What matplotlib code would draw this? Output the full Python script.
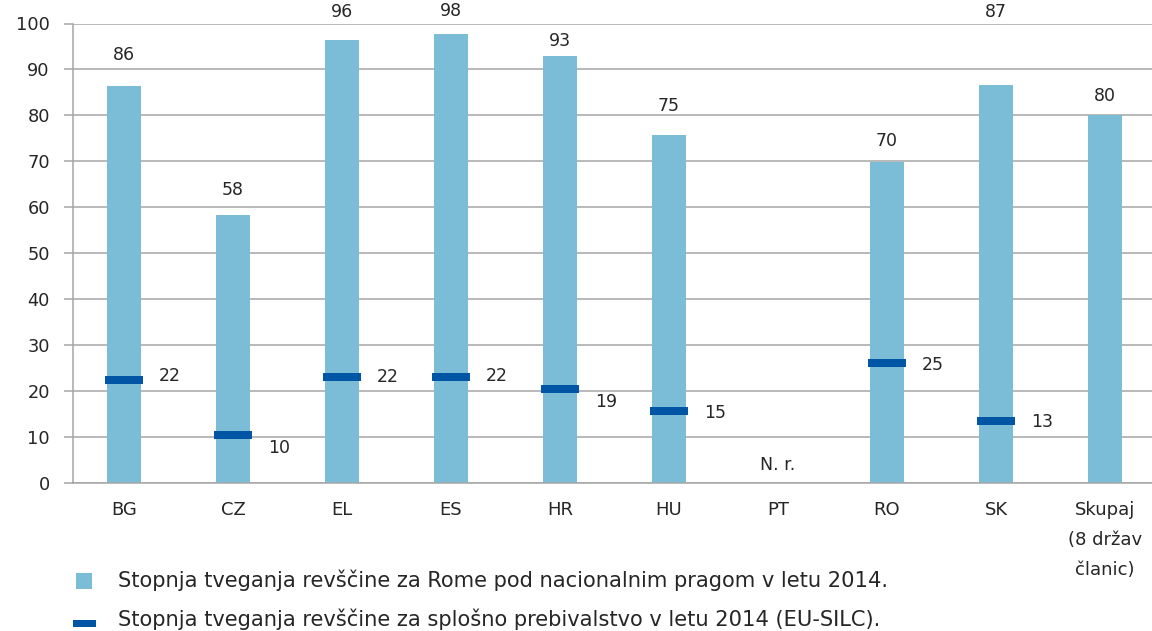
import matplotlib
matplotlib.use("Agg")
import matplotlib.pyplot as plt
from matplotlib.patches import Rectangle

plt.rcParams['font.family'] = ['DejaVu Sans']

# ---- data ----
categories = ["BG", "CZ", "EL", "ES", "HR", "HU", "PT", "RO", "SK", "Skupaj\n(8 držav\nčlanic)"]
roma_rate = [86.3, 58.2, 96.3, 97.8, 93.0, 75.6, None, 69.9, 86.7, 80.0]
roma_labels = ["86", "58", "96", "98", "93", "75", None, "70", "87", "80"]
general_rate = [22.3, 10.3, 22.9, 22.9, 20.3, 15.5, None, 26.0, 13.3, None]
general_labels = ["22", "10", "22", "22", "19", "15", None, "25", "13", None]
missing_label = "N. r."
yticks = [0, 10, 20, 30, 40, 50, 60, 70, 80, 90, 100]
legend_labels = [
    "Stopnja tveganja revščine za Rome pod nacionalnim pragom v letu 2014.",
    "Stopnja tveganja revščine za splošno prebivalstvo v letu 2014 (EU-SILC).",
]

# ---- label placement (style/positions, not data) ----
roma_label_y = [93.2, 63.8, 102.6, 102.8, 96.1, 82.1, None, 74.3, 102.6, 84.1]
general_label_y = [23.2, 7.5, 23.0, 23.2, 17.5, 15.2, None, 25.6, 13.2, None]
missing_label_y = 3.8

BAR_C = "#7BBCD6"
MARK_C = "#0055A4"
GRID_C = "#A6A6A6"
TXT_C = "#262626"
FS_DATA = 12.5
FS_TICK = 12.8
FS_LEG = 15.1

W, H = 1152, 631
fig = plt.figure(figsize=(W / 100, H / 100), dpi=100)
ax = fig.add_axes([72.7 / W, (H - 482.5) / H, (W - 72.7) / W, (482.5 - 23.5) / H])

x = list(range(len(categories)))
bx = [i for i, v in zip(x, roma_rate) if v is not None]
bv = [v for v in roma_rate if v is not None]
ax.bar(bx, bv, width=0.31, color=BAR_C, zorder=2)

mh = 1.75
mx = [i for i, v in zip(x, general_rate) if v is not None]
mv = [v - mh / 2 for v in general_rate if v is not None]
ax.bar(mx, [mh] * len(mx), bottom=mv, width=0.35, color=MARK_C, zorder=3)

for i, (lab, ly) in enumerate(zip(roma_labels, roma_label_y)):
    if lab is not None:
        ax.text(i, ly, lab, ha="center", va="center", fontsize=FS_DATA, color=TXT_C, clip_on=False)
for i, (lab, ly) in enumerate(zip(general_labels, general_label_y)):
    if lab is not None:
        ax.text(i + 0.42, ly, lab, ha="center", va="center", fontsize=FS_DATA, color=TXT_C)
for i, v in enumerate(roma_rate):
    if v is None:
        ax.text(i, missing_label_y, missing_label, ha="center", va="center", fontsize=FS_DATA, color=TXT_C)

ax.set_xlim(-0.471, -0.471 + (W - 72.7) / 109)
ax.set_ylim(0, 100)
ax.set_yticks(yticks)
ax.set_yticklabels([str(t) for t in yticks], fontsize=FS_TICK, color=TXT_C)
ax.set_xticks(x)
ax.set_xticklabels(categories, fontsize=13, color=TXT_C, linespacing=1.88, va="top")
ax.tick_params(axis="x", length=0, pad=13)
ax.tick_params(axis="y", length=6.5, width=1.1, color=GRID_C, pad=10)
ax.yaxis.grid(True, color=GRID_C, linewidth=1.1, zorder=0)
ax.set_axisbelow(True)
for s in ["top", "right"]:
    ax.spines[s].set_visible(False)
for s in ["left", "bottom"]:
    ax.spines[s].set_color(GRID_C)
    ax.spines[s].set_linewidth(1.1)

# legend drawn manually
fig.add_artist(Rectangle((76 / W, (H - 589) / H), 16 / W, 16 / H, transform=fig.transFigure,
                         color=BAR_C, lw=0))
fig.add_artist(Rectangle((73 / W, (H - 627) / H), 23 / W, 7 / H, transform=fig.transFigure,
                         color=MARK_C, lw=0))
fig.text(118 / W, (H - 580) / H, legend_labels[0], ha="left", va="center", fontsize=FS_LEG, color=TXT_C)
fig.text(118 / W, (H - 619.5) / H, legend_labels[1], ha="left", va="center", fontsize=FS_LEG, color=TXT_C)

fig.savefig("out.png", dpi=100)
